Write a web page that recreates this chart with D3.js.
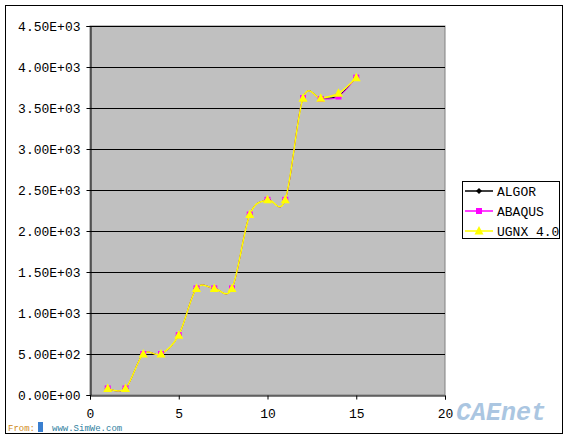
<!DOCTYPE html>
<html>
<head>
<meta charset="utf-8">
<script src="https://cdn.jsdelivr.net/npm/d3@7"></script>
<style>
  body { margin: 0; background: #fff; }
  text { font-family: "Liberation Mono", "DejaVu Sans Mono", monospace; }
</style>
</head>
<body>
<svg id="chart"></svg>
<script>
// data
var xs = [1, 2, 3, 4, 5, 6, 7, 8, 9, 10, 11, 12, 13, 14, 15];
var algor = [80, 80, 500, 500, 730, 1300, 1300, 1300, 2200, 2380, 2380, 3620, 3620, 3650, 3870];
var abaqus = [80, 80, 500, 500, 730, 1300, 1300, 1300, 2200, 2380, 2380, 3620, 3610, 3640, 3870];
var ugnx = [80, 80, 500, 500, 730, 1300, 1300, 1300, 2200, 2380, 2380, 3620, 3620, 3680, 3870];
var yTicks = [0, 500, 1000, 1500, 2000, 2500, 3000, 3500, 4000, 4500];
var xTicks = [0, 5, 10, 15, 20];

var series = [
  { name: 'ALGOR', values: algor, color: '#000000', marker: 'diamond' },
  { name: 'ABAQUS', values: abaqus, color: '#FF00FF', marker: 'square' },
  { name: 'UGNX 4.0', values: ugnx, color: '#FFFF00', marker: 'triangle' }
];

var config = { width: 574, height: 440 };
var plot = { left: 90, top: 26, right: 445, bottom: 395 };

var svg = d3.select('#chart').attr('width', config.width).attr('height', config.height);

// chart area border
svg.append('rect')
  .attr('x', 5.5).attr('y', 5.5)
  .attr('width', 557).attr('height', 428)
  .attr('fill', '#fff').attr('stroke', '#000');

var x = d3.scaleLinear().domain([0, 20]).range([plot.left, plot.right]);
var y = d3.scaleLinear().domain([0, 4500]).range([plot.bottom, plot.top]);

// plot area
svg.append('rect')
  .attr('x', plot.left).attr('y', plot.top)
  .attr('width', plot.right - plot.left).attr('height', plot.bottom - plot.top)
  .attr('fill', '#C0C0C0').attr('stroke', '#808080');

// gridlines
svg.append('g').selectAll('line').data(yTicks.slice(1)).enter().append('line')
  .attr('x1', plot.left).attr('x2', plot.right)
  .attr('y1', function(d) { return Math.round(y(d)) + 0.5; })
  .attr('y2', function(d) { return Math.round(y(d)) + 0.5; })
  .attr('stroke', '#000');

// axes
var yAxis = svg.append('g')
  .attr('transform', 'translate(' + (plot.left + 0.5) + ',0)')
  .call(d3.axisLeft(y).tickValues(yTicks).tickSize(4).tickPadding(6)
    .tickFormat(function(d) { return d3.format('.2e')(d).replace('e', 'E').replace(/E([+-])(\d)$/, 'E$10$2'); }));
yAxis.selectAll('text').attr('font-size', 13).attr('fill', '#000')
  .attr('font-family', '"Liberation Mono", monospace');

var xAxis = svg.append('g')
  .attr('transform', 'translate(0,' + (plot.bottom + 0.5) + ')')
  .call(d3.axisBottom(x).tickValues(xTicks).tickSize(4).tickPadding(9));
xAxis.selectAll('text').attr('font-size', 13).attr('fill', '#000')
  .attr('font-family', '"Liberation Sans", Arial, sans-serif');
xAxis.select('.domain').attr('stroke', '#000');
yAxis.select('.domain').attr('stroke', '#000');

// lines
var line = d3.line()
  .x(function(d, i) { return x(xs[i]); })
  .y(function(d) { return y(d); })
  .curve(d3.curveCardinal.tension(0));

function marker(sel, type, color) {
  if (type === 'diamond') {
    sel.append('path').attr('d', 'M0,-3L3,0L0,3L-3,0Z').attr('fill', color);
  } else if (type === 'square') {
    sel.append('rect').attr('x', -3).attr('y', -3).attr('width', 6).attr('height', 6).attr('fill', color);
  } else {
    sel.append('path').attr('d', 'M0,-5L4.5,3.5L-4.5,3.5Z').attr('fill', color);
  }
}

series.forEach(function(s) {
  svg.append('path').datum(s.values)
    .attr('d', line)
    .attr('fill', 'none')
    .attr('stroke', s.color)
    .attr('stroke-width', s.name === 'UGNX 4.0' ? 1.5 : 1);
});
series.forEach(function(s) {
  svg.append('g').selectAll('g').data(s.values).enter().append('g')
    .attr('transform', function(d, i) { return 'translate(' + x(xs[i]) + ',' + y(d) + ')'; })
    .each(function() { marker(d3.select(this), s.marker, s.color); });
});

// legend
var legend = svg.append('g').attr('transform', 'translate(462,181)');
legend.append('rect').attr('x', 0.5).attr('y', 0.5).attr('width', 97).attr('height', 57)
  .attr('fill', '#fff').attr('stroke', '#000');
series.forEach(function(s, i) {
  var g = legend.append('g').attr('transform', 'translate(0,' + (10 + i * 20) + ')');
  g.append('line').attr('x1', 3).attr('x2', 31).attr('stroke', s.color).attr('stroke-width', 1.5);
  g.append('g').attr('transform', 'translate(17,0)').call(marker, s.marker, s.color);
  g.append('text').attr('x', 35).attr('y', 4.5).attr('font-size', 13).attr('fill', '#000').text(s.name);
});

// source watermarks
svg.append('rect').attr('x', 6).attr('y', 421).attr('width', 134).attr('height', 12).attr('fill', '#fff');
svg.append('text').attr('x', 8).attr('y', 431).attr('font-size', 9).attr('fill', '#d08a20').text('From:');
svg.append('rect').attr('x', 38).attr('y', 422).attr('width', 5).attr('height', 10).attr('fill', '#3a7fd0');
svg.append('text').attr('x', 52).attr('y', 431).attr('font-size', 9).attr('fill', '#3080a0').text('www.SimWe.com');
svg.append('text').attr('x', 456).attr('y', 420).attr('font-size', 25).attr('font-weight', 'bold')
  .attr('font-style', 'italic').attr('font-family', '"Liberation Sans", Arial, sans-serif')
  .attr('fill', '#8fb4d8').attr('opacity', 0.75).text('CAEnet');
</script>
</body>
</html>
